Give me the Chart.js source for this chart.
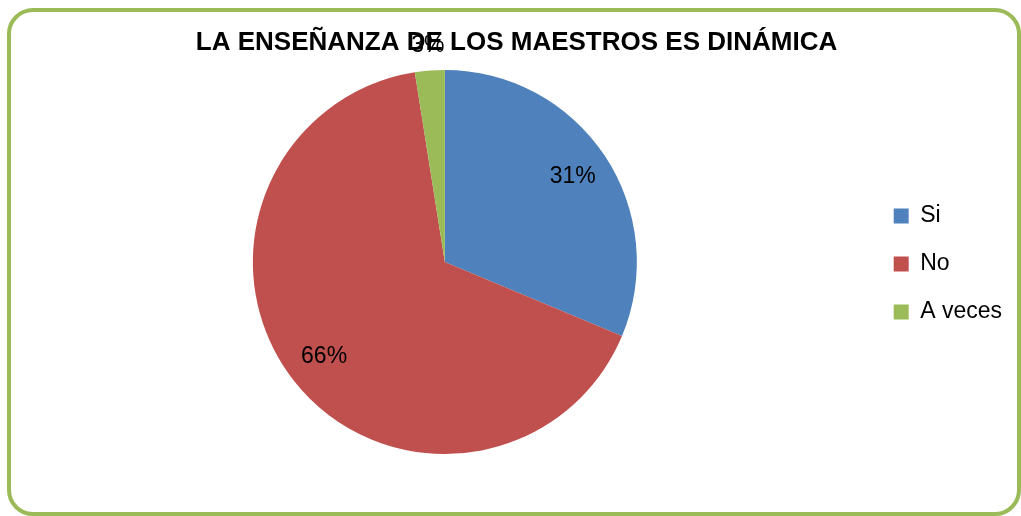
<!DOCTYPE html>
<html>
<head>
<meta charset="utf-8">
<script src="https://cdn.jsdelivr.net/npm/chart.js@4"></script>
<style>
  html, body { margin: 0; padding: 0; background: #fff; }
  body { width: 1021px; height: 516px; position: relative; overflow: hidden; }
  #frame {
    position: absolute; left: 7px; top: 8px; width: 1014px; height: 508px;
    box-sizing: border-box; border: 4px solid #9BBB59; border-radius: 26px;
  }
  #wrap { position: absolute; left: 0; top: 0; width: 1021px; height: 516px; }
</style>
</head>
<body>
<div id="frame"></div>
<div id="wrap"><canvas id="pieChart" width="1021" height="516"></canvas></div>
<script>
// Données du graphique
const categories = ["Si", "No", "A veces"];
const valeurs = [31.3, 66.2, 2.5];
const etiquettes = ["31%", "66%", "3%"];
const couleurs = ["#4F81BD", "#C0504D", "#9BBB59"];
const titre = "LA ENSEÑANZA DE LOS MAESTROS ES DINÁMICA";

// Étiquettes de pourcentage sur les parts
const labelsPlugin = {
  id: "pctLabels",
  afterDatasetsDraw(chart) {
    const ctx = chart.ctx;
    const meta = chart.getDatasetMeta(0);
    ctx.save();
    ctx.font = "23px 'Liberation Sans', Arial, sans-serif";
    ctx.fillStyle = "#000";
    ctx.textAlign = "center";
    ctx.textBaseline = "middle";
    meta.data.forEach((arc, i) => {
      const p = arc.getProps(["x", "y", "startAngle", "endAngle", "outerRadius"], true);
      const mid = (p.startAngle + p.endAngle) / 2;
      // petite part : étiquette à l'extérieur
      const f = (p.endAngle - p.startAngle) < 0.3 ? 1.13 : 0.8;
      const r = p.outerRadius * f;
      ctx.fillText(etiquettes[i], p.x + Math.cos(mid) * r, p.y + Math.sin(mid) * r);
    });
    ctx.restore();
  }
};

const ctx = document.getElementById("pieChart").getContext("2d");
new Chart(ctx, {
  type: "pie",
  data: {
    labels: categories,
    datasets: [{
      data: valeurs,
      backgroundColor: couleurs,
      borderWidth: 0
    }]
  },
  options: {
    responsive: false,
    animation: false,
    layout: { padding: { left: 21, right: 9, top: 0, bottom: 62 } },
    plugins: {
      tooltip: { enabled: false },
      title: {
        display: true,
        text: titre,
        color: "#000",
        font: { family: "'Liberation Sans', Arial, sans-serif", size: 26, weight: "bold" },
        padding: { top: 27, bottom: 11.8 }
      },
      legend: {
        position: "right",
        // titre vide pour descendre les éléments de la légende
        title: { display: true, text: " ", font: { size: 10 }, padding: { top: 0, bottom: 62 } },
        labels: {
          color: "#000",
          font: { family: "'Liberation Sans', Arial, sans-serif", size: 23 },
          boxWidth: 15,
          boxHeight: 15,
          padding: 25
        }
      }
    }
  },
  plugins: [labelsPlugin]
});
</script>
</body>
</html>
